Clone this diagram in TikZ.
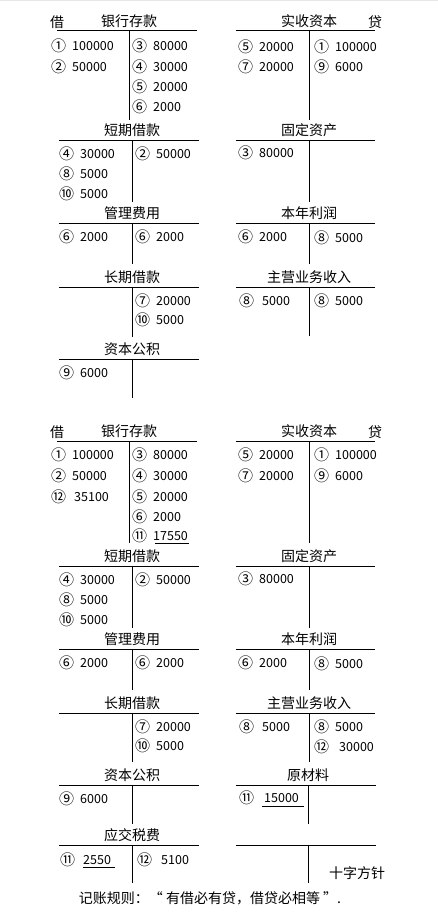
\documentclass[tikz,border=0pt]{standalone}
\usepackage{fontspec}
\setmainfont{Noto Sans CJK SC}
\tikzset{
  ttl/.style={font=\fontsize{14}{14}\selectfont, inner sep=0pt},
  ent/.style={font=\fontsize{12.5}{12.5}\selectfont, inner sep=0pt, anchor=west},
  circ/.style={font=\fontsize{15}{15}\selectfont, inner sep=0pt, anchor=west},
  tline/.style={line width=1pt, black},
  uline/.style={line width=0.9pt, black}
}
\newcounter{encnt}
% \en[offset]{x}{y}{circle}{number}
\newcommand\en[5][18]{%
  \stepcounter{encnt}%
  \edef\cname{c\arabic{encnt}}\edef\nname{n\arabic{encnt}}%
  \node[circ] (\cname) at (#2-1,#3) {#4};
  \node[ent] (\nname) at (#2+#1+2,#3) {#5};
}
% \acct{name}{left x}{vertical x}{right x}{line y}{bottom y}{title}
\newcommand\acct[7]{%
  \draw[tline] (#2,#5) -- (#4,#5);
  \draw[tline] (#3,#5) -- (#3,#6);
  \node[ttl] (#1) at (#3,#5-10) {#7};
}
\begin{document}
\begin{tikzpicture}[x=1pt,y=-1pt]
\useasboundingbox (0,0) rectangle (438,915);
\fill[white] (0,0) rectangle (438,915);
\draw[gray!18, line width=1pt] (0,0.5) -- (438,0.5);

% ===== top section =====
\acct{a1}{57}{129}{197}{31}{120}{银行存款}
\node[ttl] (jie1) at (57,22) {借};
\en{52}{46}{①}{100000} \en{52}{67}{②}{50000}
\en{133}{46}{③}{80000} \en{133}{67}{④}{30000} \en{133}{87}{⑤}{20000} \en{133}{107}{⑥}{2000}

\acct{a2}{59}{132}{199}{140}{202}{短期借款}
\en{60}{154}{④}{30000} \en{60}{174}{⑧}{5000} \en{60}{194}{⑩}{5000}
\en{136}{154}{②}{50000}

\acct{a3}{59}{132}{199}{223}{264}{管理费用}
\en{60}{237}{⑥}{2000} \en{136}{237}{⑥}{2000}

\acct{a4}{59}{132}{199}{287}{337}{长期借款}
\en{136}{301}{⑦}{20000} \en{136}{320}{⑩}{5000}

\acct{a5}{59}{132}{199}{359}{398}{资本公积}
\en{60}{373}{⑨}{6000}

\acct{b1}{236}{309}{375}{31}{120}{实收资本}
\node[ttl] (dai1) at (375,22) {贷};
\en{239}{47}{⑤}{20000} \en{239}{67}{⑦}{20000}
\en{315}{47}{①}{100000} \en{315}{67}{⑨}{6000}

\acct{b2}{236}{309}{375}{140}{202}{固定资产}
\en{239}{153}{③}{80000}

\acct{b3}{236}{309}{375}{223}{264}{本年利润}
\en{239}{237}{⑥}{2000} \en{315}{238}{⑧}{5000}

\acct{b4}{236}{309}{375}{287}{336}{主营业务收入}
\en[20]{240}{301}{⑧}{5000} \en{315}{301}{⑧}{5000}

% ===== bottom section =====
\acct{c1}{57}{129}{197}{441}{543}{银行存款}
\node[ttl] (jie2) at (57,432) {借};
\en{52}{455}{①}{100000} \en{52}{476}{②}{50000} \en[20]{52}{497}{⑫}{35100}
\en{133}{455}{③}{80000} \en{133}{476}{④}{30000} \en{133}{497}{⑤}{20000}
\en{133}{517}{⑥}{2000} \en{133}{536}{⑪}{17550}
\draw[uline] (155,543) -- (189,543);

\acct{c2}{59}{132}{199}{566}{628}{短期借款}
\en{60}{580}{④}{30000} \en{60}{600}{⑧}{5000} \en{60}{620}{⑩}{5000}
\en{136}{580}{②}{50000}

\acct{c3}{59}{132}{199}{649}{690}{管理费用}
\en{60}{663}{⑥}{2000} \en{136}{663}{⑥}{2000}

\acct{c4}{59}{132}{199}{713}{762}{长期借款}
\en{136}{727}{⑦}{20000} \en{136}{746}{⑩}{5000}

\acct{c5}{59}{132}{199}{785}{824}{资本公积}
\en{60}{799}{⑨}{6000}

\acct{c6}{59}{132}{199}{845}{883}{应交税费}
\en[20]{61}{860}{⑪}{2550}
\draw[uline] (83,867) -- (115,867);
\en[21]{138}{860}{⑫}{5100}

\acct{d1}{236}{309}{375}{441}{543}{实收资本}
\node[ttl] (dai2) at (375,432) {贷};
\en{239}{455}{⑤}{20000} \en{239}{476}{⑦}{20000}
\en{315}{455}{①}{100000} \en{315}{476}{⑨}{6000}

\acct{d2}{236}{309}{375}{566}{628}{固定资产}
\en{239}{579}{③}{80000}

\acct{d3}{236}{309}{375}{649}{690}{本年利润}
\en{239}{663}{⑥}{2000} \en{315}{664}{⑧}{5000}

\acct{d4}{236}{309}{375}{713}{762}{主营业务收入}
\en[20]{240}{727}{⑧}{5000} \en{315}{727}{⑧}{5000} \en[22]{315}{747}{⑫}{30000}

\acct{d5}{236}{308}{376}{785}{824}{原材料}
\en[22]{240}{798}{⑪}{15000}
\draw[uline] (262,806) -- (304,806);

\draw[tline] (236,845) -- (376,845);
\draw[tline] (308,845) -- (308,883);
\node[ttl] (shizi) at (357,873) {十字方针};

\node[ttl] (motto) at (210,898) {记账规则：“ 有借必有贷，借贷必相等 ”.};
\end{tikzpicture}
\end{document}
